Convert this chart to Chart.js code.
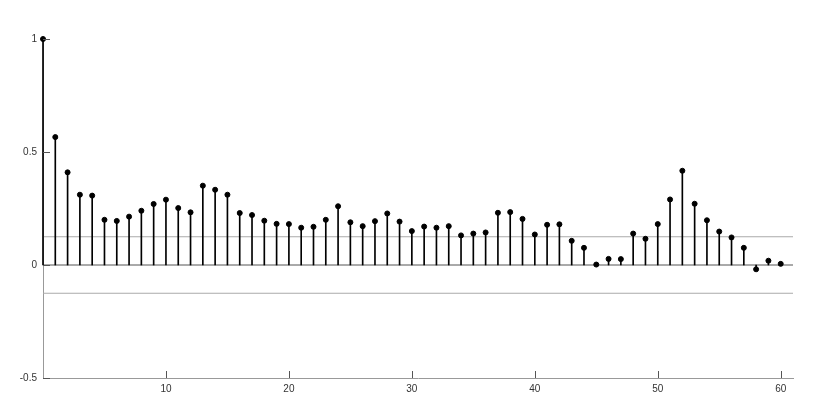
<!DOCTYPE html>
<html>
<head>
<meta charset="utf-8">
<script src="https://cdn.jsdelivr.net/npm/chart.js@4.4.1/dist/chart.umd.min.js"></script>
<style>
  html, body { margin: 0; padding: 0; background: #fff; }
  #wrap { width: 830px; height: 415px; }
</style>
</head>
<body>
<div id="wrap"><canvas id="acf"></canvas></div>
<script>
// lags 0..60 and autocorrelation
const lags = [];
for (let i = 0; i <= 60; i++) lags.push(i);
const acf = [
  1.000, 0.566, 0.410, 0.311, 0.307, 0.200, 0.195, 0.214, 0.240, 0.270,
  0.289, 0.252, 0.233, 0.351, 0.333, 0.311, 0.230, 0.221, 0.196, 0.182,
  0.181, 0.165, 0.169, 0.200, 0.260, 0.189, 0.172, 0.194, 0.228, 0.192,
  0.150, 0.170, 0.165, 0.172, 0.131, 0.139, 0.144, 0.231, 0.234, 0.204,
  0.135, 0.178, 0.180, 0.107, 0.076, 0.002, 0.027, 0.026, 0.139, 0.116,
  0.181, 0.290, 0.417, 0.271, 0.198, 0.148, 0.122, 0.076, -0.019, 0.019,
  0.005
];
const confBound = 0.125;
const xTicks = [10, 20, 30, 40, 50, 60];
const yTicks = [-0.5, 0, 0.5, 1];

const points = lags.map((l, i) => ({ x: l, y: acf[i] }));

// inward tick marks, like the original plot
const innerTicks = {
  id: 'innerTicks',
  afterDatasetsDraw(chart) {
    const { ctx, chartArea, scales } = chart;
    ctx.save();
    ctx.strokeStyle = '#555';
    ctx.lineWidth = 1;
    xTicks.forEach(v => {
      const px = Math.round(scales.x.getPixelForValue(v)) + 0.5;
      ctx.beginPath();
      ctx.moveTo(px, chartArea.bottom);
      ctx.lineTo(px, chartArea.bottom - 7);
      ctx.stroke();
    });
    yTicks.forEach(v => {
      const py = Math.round(scales.y.getPixelForValue(v)) + 0.5;
      ctx.beginPath();
      ctx.moveTo(chartArea.left, py);
      ctx.lineTo(chartArea.left + 7, py);
      ctx.stroke();
    });
    ctx.restore();
  }
};

new Chart(document.getElementById('acf').getContext('2d'), {
  type: 'bar',
  data: {
    datasets: [
      {
        type: 'line',
        data: [{ x: 0, y: confBound }, { x: 61, y: confBound }],
        borderColor: '#aaaaaa',
        borderWidth: 1,
        pointRadius: 0,
        order: 5
      },
      {
        type: 'line',
        data: [{ x: 0, y: -confBound }, { x: 61, y: -confBound }],
        borderColor: '#aaaaaa',
        borderWidth: 1,
        pointRadius: 0,
        order: 5
      },
      {
        type: 'line',
        data: [{ x: 0, y: 0 }, { x: 61, y: 0 }],
        borderColor: '#555555',
        borderWidth: 1,
        pointRadius: 0,
        order: 4
      },
      {
        type: 'bar',
        data: points,
        backgroundColor: '#000000',
        borderWidth: 0,
        barThickness: 1,
        clip: false,
        order: 3
      },
      {
        type: 'scatter',
        data: points,
        backgroundColor: '#000000',
        borderColor: '#000000',
        pointRadius: 2.5,
        pointHoverRadius: 2.5,
        clip: false,
        order: 1
      }
    ]
  },
  options: {
    responsive: true,
    maintainAspectRatio: false,
    animation: false,
    layout: { padding: { left: 0, right: 37, top: 39, bottom: 0 } },
    plugins: {
      legend: { display: false },
      tooltip: { enabled: false }
    },
    scales: {
      x: {
        type: 'linear',
        offset: false,
        min: 0,
        max: 61,
        afterFit: s => { s.height = 37; },
        afterBuildTicks: s => { s.ticks = xTicks.map(v => ({ value: v })); },
        grid: { display: false, drawTicks: false },
        border: { display: true, color: '#999999', width: 1 },
        ticks: {
          padding: 5,
          color: '#333',
          font: { family: 'Liberation Sans', size: 10 },
          callback: v => String(v)
        }
      },
      y: {
        min: -0.5,
        max: 1,
        afterFit: s => { s.width = 43; },
        afterBuildTicks: s => { s.ticks = yTicks.map(v => ({ value: v })); },
        grid: { display: false, drawTicks: false },
        border: { display: true, color: '#999999', width: 1 },
        ticks: {
          padding: 6,
          color: '#333',
          font: { family: 'Liberation Sans', size: 10 },
          callback: v => String(v)
        }
      }
    }
  },
  plugins: [innerTicks]
});
</script>
</body>
</html>
